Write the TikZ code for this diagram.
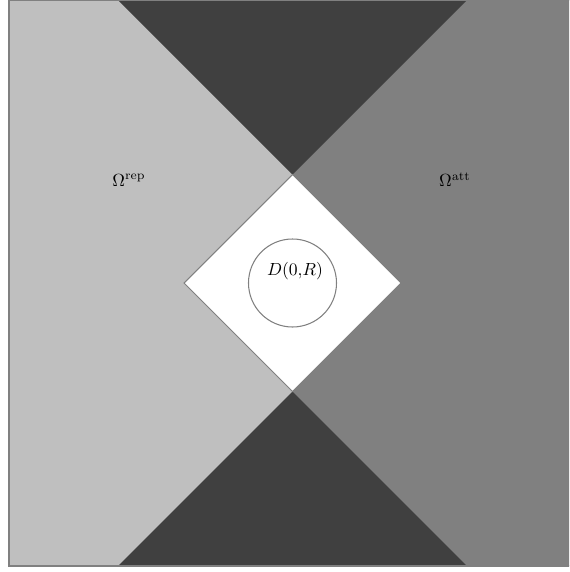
\documentclass[tikz,border=0pt]{standalone}
\begin{document}
\begin{tikzpicture}[x=0.02cm,y=-0.02cm,
  edge/.style={draw=black!50,line width=0.6pt}]
\useasboundingbox (0,0) rectangle (569,572);
\clip (0,0) rectangle (569,572);
\coordinate (c) at (292.5,283);
\fill[black!25] (9,0) rectangle (292.5,566);
\fill[black!50] (292.5,0) rectangle (575,566);
\fill[black!75] (118,0) -- (467,0) -- (292.5,174.5) -- cycle;
\fill[black!75] (118,566) -- (467,566) -- (292.5,391.5) -- cycle;
\filldraw[fill=white,edge] (292.5,174.5) -- (401,283) -- (292.5,391.5) -- (184,283) -- cycle;
\draw[edge] (9,0.5) rectangle (575,566);
\node[circle,draw=black!50,line width=0.6pt,minimum size=88*0.02cm,inner sep=0pt] (disk) at (c) {};
\node (dl) at (295,271) {$D(0{,}R)$};
\node (rep) at (129,180) {$\Omega^{\mathrm{rep}}$};
\node (att) at (455,180) {$\Omega^{\mathrm{att}}$};
\end{tikzpicture}
\end{document}
